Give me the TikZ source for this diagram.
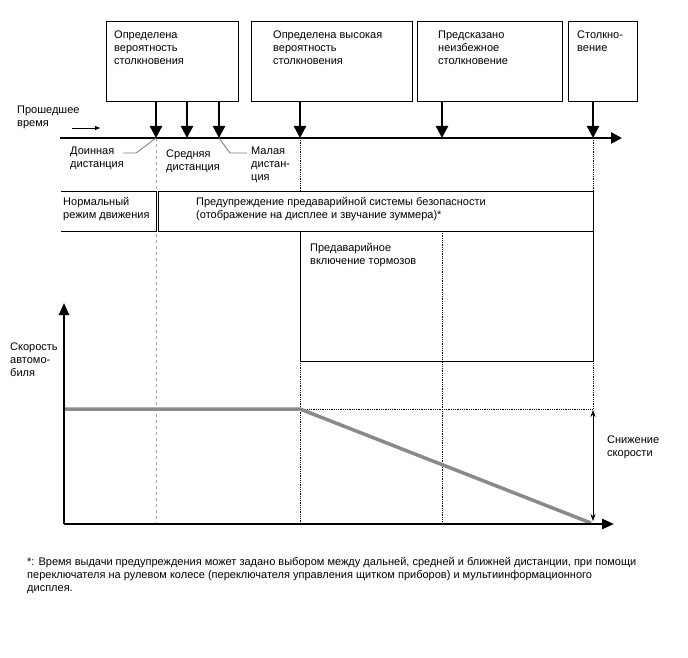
\documentclass[tikz,border=0pt]{standalone}
\usepackage{fontspec}
\setmainfont{Liberation Sans}
\usepackage{tikz}
\usetikzlibrary{arrows.meta}
\usepackage{xcolor}
\definecolor{speedgray}{HTML}{8A8A8A}

\tikzset{
  evbox/.style={draw, line width=0.9pt, minimum height=80pt, inner sep=0pt},
  txt/.style={anchor=north west, inner sep=0pt, align=left, font=\fontsize{11}{13}\selectfont},
  drop/.style={line width=2.4pt, -{Triangle[width=12pt,length=12pt]}},
  axis/.style={line width=2.4pt, -{Triangle[width=10pt,length=12pt]}},
  leader/.style={gray, line width=0.9pt},
  vdash/.style={gray!70, dashed, line width=0.8pt},
  vdot/.style={densely dotted, line width=0.8pt},
}

\begin{document}
\begin{tikzpicture}[x=1pt, y=-1pt]
    \useasboundingbox (0,0) rectangle (688,658);

    % --- 1. TIMELINE AND GUIDE LINES ---
    \coordinate (ts) at (60,138);
    \coordinate (te) at (622,138);
    \foreach \name/\xx in {t1/156, t2/187, t3/219, t4/300, t5/442, t6/593} {
        \coordinate (\name) at (\xx,138);
    }
    \coordinate (o) at (64,524);

    % dashed / dotted verticals (under the boxes)
    \draw[vdash] (t1) -- (t1 |- o);
    \draw[vdot] (t4) -- (t4 |- o);
    \draw[vdot] (442,231) -- (t5 |- o);
    \draw[vdot] (t6) -- (593,409);
    \draw[vdot] (300,409) -- (593,409);

    % --- 2. EVENT BOXES ---
    \node[evbox, minimum width=132pt] (b1) at (172,61) {};
    \node[evbox, minimum width=161pt] (b2) at (331.5,61) {};
    \node[evbox, minimum width=145pt] (b3) at (489.5,61) {};
    \node[evbox, minimum width=69pt] (b4) at (602.5,61) {};

    \node[txt] (b1t) at (114,31) {Определена\\вероятность\\столкновения};
    \node[txt] (b2t) at (273,31) {Определена высокая\\вероятность\\столкновения};
    \node[txt] (b3t) at (438,31) {Предсказано\\неизбежное\\столкновение};
    \node[txt] (b4t) at (577,31) {Столкно-\\вение};

    % drop arrows from the boxes onto the timeline
    \foreach \bx/\tt in {b1/t1, b1/t2, b1/t3, b2/t4, b3/t5, b4/t6} {
        \draw[drop] (\tt |- \bx.south) -- (\tt);
    }
    \draw[line width=2.6pt, -{Triangle[width=11pt,length=11pt]}] (ts) -- (te);

    % --- 3. TIMELINE LABELS ---
    \node[txt] (past) at (17,106) {Прошедшее\\время};
    \coordinate (pa) at (72,128);
    \coordinate (pb) at (100,128);
    \draw[line width=0.9pt, -{Triangle[width=4pt,length=5pt]}] (pa) -- (pb);

    \node[txt] (far) at (70,147) {Доинная\\дистанция};
    \node[txt] (mid) at (166,150) {Средняя\\дистанция};
    \node[txt] (near) at (251,147) {Малая\\дистан-\\ция};
    \draw[leader] (123,153) -- (136,153) -- (t1);
    \draw[leader] (247,153) -- (230,153) -- (t3);

    % --- 4. STATE ROWS ---
    \draw[line width=0.9pt] (61,191) -- (156,191) -- (156,231) -- (61,231);
    \node[draw, line width=0.9pt, fill=white, inner sep=0pt,
          minimum width=435pt, minimum height=40pt] (warn) at (375.5,211) {};
    \node[draw, line width=0.9pt, inner sep=0pt,
          minimum width=293pt, minimum height=130pt] (brake) at (446.5,296) {};

    \node[txt] (normal) at (63,197) {Нормальный\\режим движения};
    \node[txt] (warnt) at (196,197) {Предупреждение предаварийной системы безопасности\\(отображение на дисплее и звучание зуммера)*};
    \node[txt] (braket) at (310,243) {Предаварийное\\включение тормозов};

    % --- 5. SPEED CHART ---
    \draw[speedgray, line width=3.5pt] (64,409) -- (300,409) -- (591,523);
    \draw[axis] (o) -- (64,303);
    \draw[axis] (o) -- (614,524);
    \coordinate (dtop) at (593,410);
    \coordinate (dbot) at (593,521);
    \draw[line width=0.8pt, {Stealth[length=7pt,width=5pt]}-{Stealth[length=7pt,width=5pt]}] (dtop) -- (dbot);

    \node[txt] (speed) at (10,343) {Скорость\\автомо-\\биля};
    \node[txt] (drop) at (607,436) {Снижение\\скорости};

    % --- 6. FOOTNOTE ---
    \node[txt] (note) at (27,557) {*: Время выдачи предупреждения может задано выбором между дальней, средней и ближней дистанции, при помощи\\переключателя на рулевом колесе (переключателя управления щитком приборов) и мультиинформационного\\дисплея.};

\end{tikzpicture}
\end{document}
